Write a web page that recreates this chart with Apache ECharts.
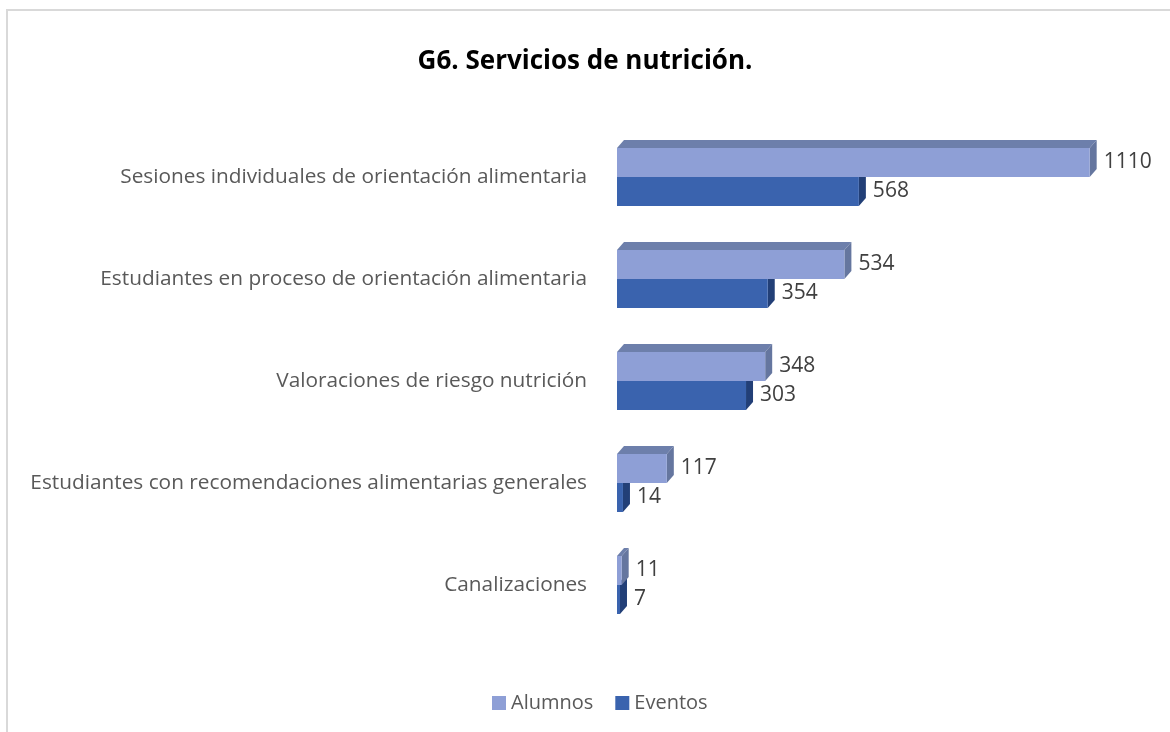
<!DOCTYPE html>
<html>
<head>
<meta charset="utf-8">
<script src="https://cdn.jsdelivr.net/npm/echarts@6/dist/echarts.min.js"></script>
<style>
html,body{margin:0;padding:0;background:#fff;}
#chart{width:1170px;height:732px;}
</style>
</head>
<body>
<div id="chart"></div>
<script>
var categories = [
  'Sesiones individuales de orientación alimentaria',
  'Estudiantes en proceso de orientación alimentaria',
  'Valoraciones de riesgo nutrición',
  'Estudiantes con recomendaciones alimentarias generales',
  'Canalizaciones'
];
var alumnos = [1110, 534, 348, 117, 11];
var eventos = [568, 354, 303, 14, 7];
var seriesNames = ['Alumnos', 'Eventos'];

var FONT = "'Open Sans', 'Noto Sans', sans-serif";
var BAR_H = 29;
var DX = 7, DY = 8;

var palettes = [
  {front: '#8E9FD6', top: '#6D7FAB', side: '#65769F'},
  {front: '#3A63AE', top: '#2C4C8A', side: '#223F77'}
];

function makeRender(idx) {
  var pal = palettes[idx];
  return function (params, api) {
    var cat = api.value(0);
    var val = api.value(1);
    var p0 = api.coord([0, cat]);
    var p1 = api.coord([val, cat]);
    var x0 = p0[0], x1 = p1[0];
    var yTop = idx === 0 ? p0[1] - BAR_H : p0[1];
    var yBot = yTop + BAR_H;
    return {
      type: 'group',
      children: [
        {type: 'polygon', shape: {points: [[x0, yTop], [x0 + DX, yTop - DY], [x1 + DX, yTop - DY], [x1, yTop]]},
         style: {fill: pal.top}},
        {type: 'polygon', shape: {points: [[x1, yTop], [x1 + DX, yTop - DY], [x1 + DX, yBot - DY], [x1, yBot]]},
         style: {fill: pal.side}},
        {type: 'rect', shape: {x: x0, y: yTop, width: Math.max(x1 - x0, 0.5), height: BAR_H},
         style: {fill: pal.front}},
        {type: 'text', x: x1 + DX + 7, y: (yTop + yBot) / 2,
         style: {text: String(val), fill: '#404040', font: '21px ' + FONT, textVerticalAlign: 'middle', textAlign: 'left'}}
      ]
    };
  };
}

var chart = echarts.init(document.getElementById('chart'), null, {renderer: 'canvas'});
chart.setOption({
  backgroundColor: '#ffffff',
  animation: false,
  title: {
    text: 'G6. Servicios de nutrición.',
    left: 'center',
    top: 44,
    textStyle: {fontFamily: FONT, fontSize: 26, fontWeight: 'bold', color: '#000000'}
  },
  graphic: [{
    type: 'rect', silent: true, z: -1,
    shape: {x: 7, y: 10, width: 1200, height: 800},
    style: {fill: 'none', stroke: '#d9d9d9', lineWidth: 2}
  }],
  legend: {
    top: 688,
    left: 487,
    itemWidth: 14,
    itemHeight: 14,
    itemGap: 22,
    textStyle: {fontFamily: FONT, fontSize: 20, color: '#595959'},
    data: [
      {name: seriesNames[0], icon: 'rect', itemStyle: {color: palettes[0].front}},
      {name: seriesNames[1], icon: 'rect', itemStyle: {color: palettes[1].front}}
    ]
  },
  grid: {left: 617, right: 42, top: 126, bottom: 96, containLabel: false},
  xAxis: {
    type: 'value', min: 0, max: 1200, show: false
  },
  yAxis: {
    type: 'category',
    data: categories,
    inverse: true,
    axisLine: {show: false},
    axisTick: {show: false},
    splitLine: {show: false},
    axisLabel: {margin: 30, fontFamily: FONT, fontSize: 20.8, color: '#595959'}
  },
  series: [
    {
      name: seriesNames[0], type: 'custom', z: 3,
      itemStyle: {color: palettes[0].front},
      encode: {x: 1, y: 0},
      data: alumnos.map(function (v, i) { return [i, v]; }),
      renderItem: makeRender(0)
    },
    {
      name: seriesNames[1], type: 'custom', z: 2,
      itemStyle: {color: palettes[1].front},
      encode: {x: 1, y: 0},
      data: eventos.map(function (v, i) { return [i, v]; }),
      renderItem: makeRender(1)
    }
  ]
});
</script>
</body>
</html>
